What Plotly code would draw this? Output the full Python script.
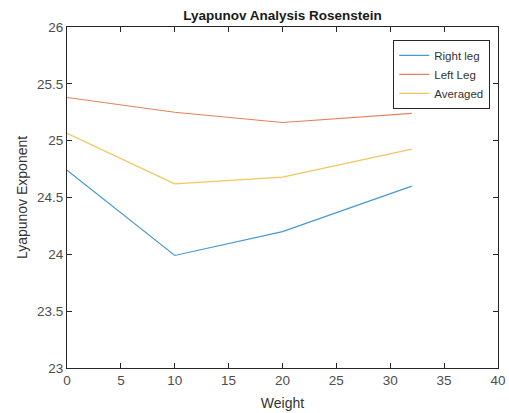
import plotly.graph_objects as go

# Weight levels and Rosenstein Lyapunov exponents per leg
weight = [0, 10, 20, 32]
right_leg = [24.74, 23.99, 24.20, 24.60]
left_leg = [25.38, 25.25, 25.16, 25.24]
averaged = [25.065, 24.62, 24.68, 24.925]

x_ticks = [0, 5, 10, 15, 20, 25, 30, 35, 40]
y_ticks = [23, 23.5, 24, 24.5, 25, 25.5, 26]

series = [
    ("Right leg", right_leg, "#0072BD"),
    ("Left Leg", left_leg, "#D95319"),
    ("Averaged", averaged, "#EDB120"),
]

fig = go.Figure()
for name, vals, color in series:
    fig.add_trace(go.Scatter(
        x=weight, y=vals, mode="lines", name=name,
        line=dict(color=color, width=1.2), opacity=0.72,
    ))

font_family = "Liberation Sans, Arial, sans-serif"
axis_common = dict(
    showline=True, linecolor="#262626", linewidth=1, mirror="ticks",
    ticks="inside", ticklen=5, tickcolor="#262626", tickwidth=1,
    showgrid=False, zeroline=False, automargin=False,
    tickfont=dict(family=font_family, size=13.5, color="#4d4d4d"),
)

fig.update_layout(
    width=509, height=413,
    margin=dict(l=67, r=11, t=27, b=45),
    paper_bgcolor="white", plot_bgcolor="white",
    title=dict(text="<b>Lyapunov Analysis Rosenstein</b>", x=0.5, xref="paper",
               y=1 - 15 / 413, yanchor="middle",
               font=dict(family=font_family, size=13.5, color="#1a1a1a")),
    xaxis=dict(range=[0, 40], tickvals=x_ticks, ticktext=[str(v) for v in x_ticks],
               title=dict(text="Weight", standoff=10,
                          font=dict(family=font_family, size=14, color="#333333")),
               **axis_common),
    yaxis=dict(range=[23, 26], tickvals=y_ticks, ticktext=[f"{v:g}" for v in y_ticks],
               title=dict(text="Lyapunov Exponent", standoff=6,
                          font=dict(family=font_family, size=14, color="#333333")),
               **axis_common),
    legend=dict(x=0.982, y=0.962, xanchor="right", yanchor="top",
                bgcolor="white", bordercolor="#262626", borderwidth=1,
                font=dict(family=font_family, size=11.5, color="#333333"),
                itemwidth=30, tracegroupgap=0),
    showlegend=True,
)

fig.write_html("out.html")
